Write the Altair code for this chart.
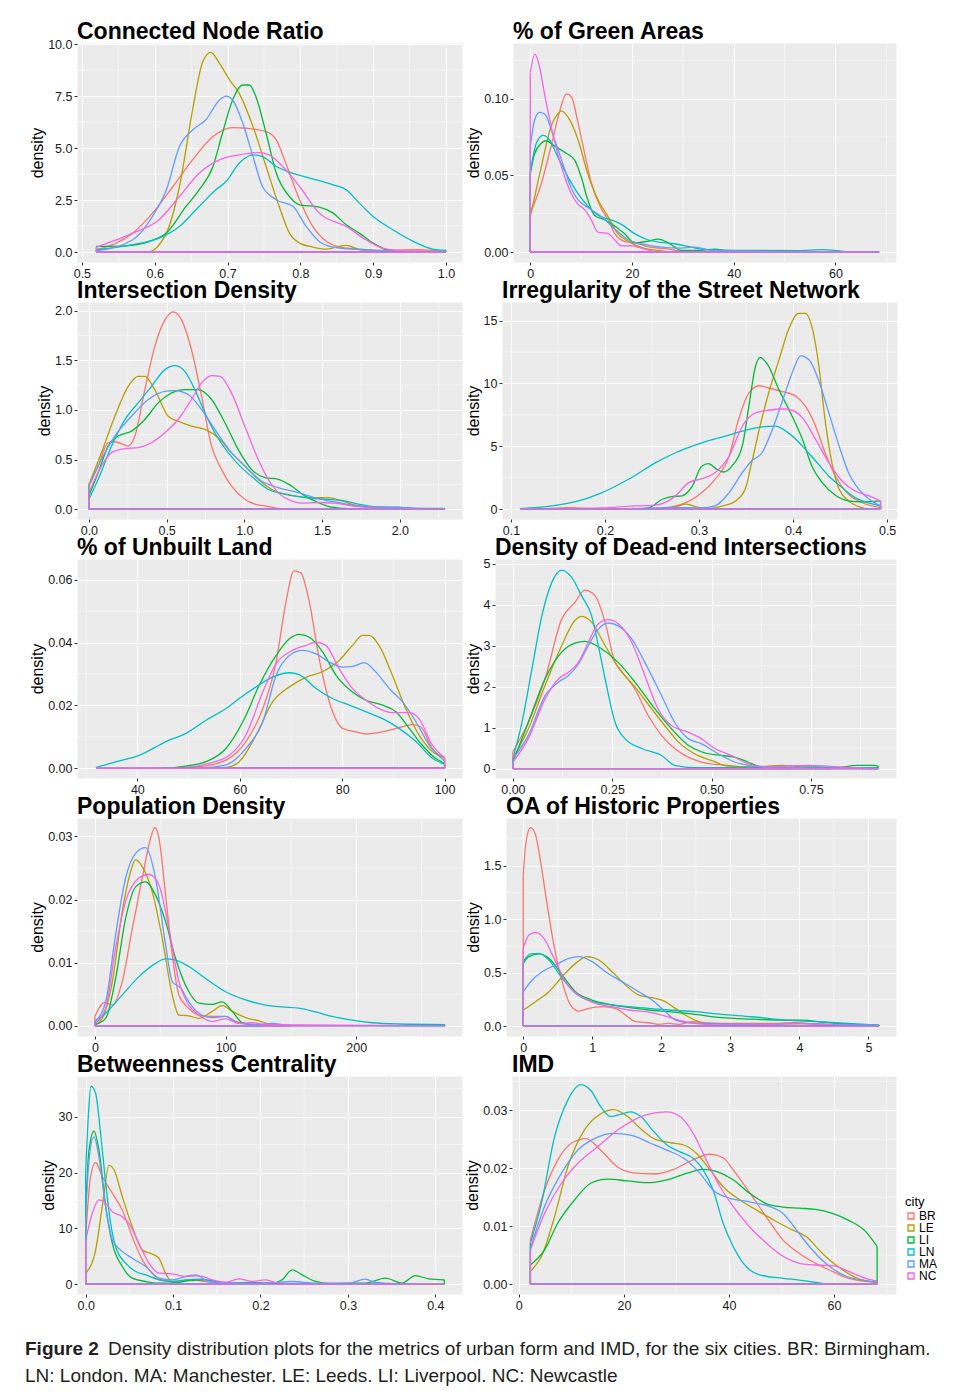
import altair as alt
import pandas as pd

CITIES = ["BR", "LE", "LI", "LN", "MA", "NC"]
COLORS = ["#F8766D", "#B79F00", "#00BA38", "#00BFC4", "#619CFF", "#F564E3"]
FONT = "Liberation Sans, Arial, Helvetica, sans-serif"
CAP_FONT = "Liberation Sans, Arial, sans-serif"

TITLES = ["Connected Node Ratio", "% of Green Areas", "Intersection Density",
          "Irregularity of the Street Network", "% of Unbuilt Land",
          "Density of Dead-end Intersections", "Population Density",
          "OA of Historic Properties", "Betweenness Centrality", "IMD"]

CAPTION_BOLD = "Figure 2"
CAPTION_LINE1 = "Density distribution plots for the metrics of urban form and IMD, for the six cities. BR: Birmingham."
CAPTION_LINE2 = "LN: London. MA: Manchester. LE: Leeds. LI: Liverpool. NC: Newcastle"

# ---------------- Connected Node Ratio ----------------
CNR_BR_X = [0.52, 0.57, 0.597, 0.625, 0.652, 0.68, 0.707, 0.726, 0.753, 0.767, 0.78, 0.799, 0.817, 0.836, 0.854, 0.881, 0.913, 0.959, 0.982, 1.0]
CNR_BR_Y = [0.11, 0.91, 1.87, 3.15, 4.43, 5.55, 5.98, 5.95, 5.79, 5.39, 4.27, 2.51, 1.23, 0.51, 0.24, 0.14, 0.08, 0.11, 0.08, 0.03]
CNR_LE_X = [0.52, 0.59, 0.616, 0.634, 0.652, 0.666, 0.677, 0.689, 0.703, 0.716, 0.735, 0.753, 0.771, 0.785, 0.799, 0.817, 0.836, 0.863, 0.881, 0.9, 0.95]
CNR_LE_Y = [0.0, 0.0, 0.91, 3.15, 6.83, 9.15, 9.6, 9.07, 8.27, 7.63, 6.03, 4.11, 2.19, 0.91, 0.43, 0.24, 0.14, 0.32, 0.11, 0.03, 0.0]
CNR_LI_X = [0.52, 0.56, 0.593, 0.616, 0.643, 0.661, 0.68, 0.693, 0.707, 0.721, 0.73, 0.739, 0.753, 0.767, 0.785, 0.799, 0.826, 0.845, 0.863, 0.881, 0.9, 0.918, 0.936]
CNR_LI_Y = [0.27, 0.3, 0.51, 0.91, 2.19, 2.99, 4.11, 5.71, 7.31, 8.03, 8.03, 7.47, 5.71, 3.79, 2.67, 2.27, 2.16, 1.87, 1.31, 0.91, 0.43, 0.11, 0.02]
CNR_LN_X = [0.52, 0.57, 0.606, 0.634, 0.661, 0.684, 0.698, 0.716, 0.735, 0.748, 0.767, 0.785, 0.813, 0.845, 0.863, 0.881, 0.9, 0.927, 0.955, 0.982, 1.0]
CNR_LN_Y = [0.11, 0.35, 0.67, 1.23, 2.19, 2.99, 3.39, 4.27, 4.67, 4.59, 4.11, 3.84, 3.55, 3.23, 2.99, 2.35, 1.71, 1.07, 0.51, 0.14, 0.08]
CNR_MA_X = [0.52, 0.57, 0.597, 0.616, 0.634, 0.652, 0.67, 0.689, 0.698, 0.707, 0.721, 0.735, 0.748, 0.767, 0.79, 0.808, 0.826, 0.845, 0.872, 0.89, 0.918, 0.95]
CNR_MA_Y = [0.06, 0.59, 1.71, 2.99, 5.07, 5.87, 6.35, 7.31, 7.5, 7.31, 6.19, 4.59, 3.15, 2.51, 2.19, 1.23, 0.51, 0.24, 0.14, 0.11, 0.05, 0.0]
CNR_NC_X = [0.52, 0.57, 0.606, 0.634, 0.661, 0.689, 0.716, 0.743, 0.757, 0.78, 0.799, 0.826, 0.863, 0.89, 0.913, 0.936, 1.0]
CNR_NC_Y = [0.24, 0.91, 1.55, 2.67, 3.79, 4.43, 4.67, 4.78, 4.67, 3.95, 3.15, 1.87, 1.23, 0.59, 0.19, 0.08, 0.02]

# ---------------- % of Green Areas ----------------
GRN_BR_X = [0, 2.2, 4.1, 5.8, 7.1, 8.1, 9.4, 10.7, 12, 14, 15.3, 16.6, 18.5, 20.5, 23.8, 27, 30.3, 50]
GRN_BR_Y = [0.025, 0.045, 0.069, 0.092, 0.103, 0.101, 0.084, 0.064, 0.045, 0.028, 0.021, 0.012, 0.007, 0.006, 0.003, 0.002, 0.0004, 0.0]
GRN_LE_X = [0, 2.2, 4.1, 5.4, 6.1, 7.4, 9.4, 11.3, 13.3, 15.3, 17.2, 19.2, 21.8, 25.1, 28.4, 40]
GRN_LE_Y = [0.023, 0.056, 0.082, 0.09, 0.092, 0.088, 0.073, 0.051, 0.034, 0.023, 0.012, 0.007, 0.003, 0.001, 0.0, 0.0]
GRN_LI_X = [0, 0.85, 2.2, 3.1, 4.8, 6.75, 8.7, 10, 11.3, 12.6, 14.6, 16.6, 18.5, 20.5, 23.1, 25.1, 27, 29.7, 33.6, 36.2, 39.5, 45]
GRN_LI_Y = [0.051, 0.064, 0.071, 0.0725, 0.069, 0.065, 0.06, 0.049, 0.034, 0.024, 0.021, 0.017, 0.012, 0.006, 0.007, 0.0084, 0.0063, 0.0011, 0.0011, 0.0019, 0.0004, 0.0]
GRN_LN_X = [0, 1.2, 2.5, 3.8, 5.4, 7.4, 9.4, 11.3, 13.3, 15.9, 17.9, 20.5, 23.1, 25.7, 28.4, 31, 33.6, 40.2, 53.3, 57.2, 59.8, 63.1, 68.6]
GRN_LN_Y = [0.052, 0.071, 0.076, 0.073, 0.062, 0.049, 0.038, 0.03, 0.024, 0.021, 0.018, 0.012, 0.008, 0.0063, 0.0054, 0.0037, 0.0019, 0.0011, 0.0009, 0.0015, 0.0011, 0.0, 0.0]
GRN_MA_X = [0, 0.85, 1.8, 2.8, 4.8, 6.75, 8.1, 9.4, 11.3, 14, 16.6, 19.2, 22.5, 25.7, 29.7, 32.3, 35.6, 43.4, 50]
GRN_MA_Y = [0.069, 0.086, 0.091, 0.09, 0.073, 0.054, 0.041, 0.034, 0.029, 0.023, 0.015, 0.008, 0.005, 0.0032, 0.0026, 0.0032, 0.0011, 0.0006, 0.0]
GRN_NC_X = [0, 0.9, 1.8, 2.8, 4.1, 5.4, 6.75, 8.05, 9.4, 10.7, 12, 13.3, 15.3, 16.6, 17.9, 19.8, 21.8, 24.4, 27, 68.6]
GRN_NC_Y = [0.117, 0.129, 0.121, 0.103, 0.082, 0.064, 0.049, 0.038, 0.031, 0.0275, 0.021, 0.013, 0.012, 0.008, 0.004, 0.0041, 0.0026, 0.0004, 0.0, 0.0]

# ---------------- Intersection Density ----------------
INT_BR_X = [0, 0.06, 0.124, 0.167, 0.221, 0.253, 0.296, 0.36, 0.424, 0.489, 0.542, 0.596, 0.66, 0.725, 0.789, 0.853, 0.917, 1.003, 1.068, 1.132, 1.218, 1.3]
INT_BR_Y = [0.234, 0.435, 0.669, 0.679, 0.652, 0.635, 0.736, 1.204, 1.639, 1.906, 1.987, 1.906, 1.605, 1.137, 0.635, 0.401, 0.234, 0.1, 0.05, 0.033, 0.007, 0.0]
INT_LE_X = [0, 0.081, 0.167, 0.253, 0.317, 0.36, 0.424, 0.51, 0.574, 0.66, 0.746, 0.832, 0.917, 1.003, 1.089, 1.175, 1.303, 1.432, 1.539, 1.625, 1.732, 1.861, 1.989, 2.29]
INT_LE_Y = [0.25, 0.569, 0.936, 1.237, 1.338, 1.338, 1.204, 0.936, 0.886, 0.836, 0.803, 0.719, 0.569, 0.435, 0.301, 0.201, 0.14, 0.117, 0.117, 0.084, 0.033, 0.013, 0.007, 0.0]
INT_LI_X = [0, 0.06, 0.124, 0.189, 0.274, 0.36, 0.446, 0.532, 0.617, 0.703, 0.789, 0.875, 0.96, 1.046, 1.132, 1.218, 1.303, 1.389, 1.475, 1.561, 1.646, 1.75]
INT_LI_Y = [0.134, 0.368, 0.635, 0.736, 0.786, 0.903, 1.07, 1.171, 1.204, 1.204, 1.104, 0.87, 0.602, 0.401, 0.318, 0.301, 0.234, 0.134, 0.067, 0.02, 0.007, 0.0]
INT_LN_X = [0, 0.06, 0.146, 0.232, 0.317, 0.403, 0.489, 0.553, 0.617, 0.682, 0.746, 0.81, 0.896, 0.982, 1.068, 1.153, 1.26, 1.389, 1.518, 1.646, 1.732, 1.861, 1.989, 2.118, 2.29]
INT_LN_Y = [0.1, 0.301, 0.635, 0.903, 1.07, 1.237, 1.405, 1.445, 1.388, 1.204, 0.97, 0.769, 0.569, 0.418, 0.301, 0.201, 0.151, 0.117, 0.1, 0.084, 0.05, 0.023, 0.02, 0.007, 0.007]
INT_MA_X = [0, 0.081, 0.167, 0.274, 0.382, 0.489, 0.553, 0.639, 0.725, 0.81, 0.917, 1.003, 1.11, 1.218, 1.346, 1.475, 1.603, 1.732, 1.882, 1.989, 2.118, 2.2]
INT_MA_Y = [0.234, 0.502, 0.736, 0.936, 1.104, 1.187, 1.194, 1.154, 1.003, 0.803, 0.569, 0.435, 0.284, 0.217, 0.167, 0.107, 0.067, 0.033, 0.02, 0.017, 0.007, 0.0]
INT_NC_X = [0, 0.081, 0.146, 0.232, 0.317, 0.403, 0.489, 0.574, 0.66, 0.725, 0.789, 0.842, 0.917, 1.003, 1.089, 1.153, 1.218, 1.303, 1.368, 1.475, 1.582, 1.689, 1.818, 2.29]
INT_NC_Y = [0.167, 0.435, 0.569, 0.609, 0.619, 0.669, 0.769, 0.903, 1.104, 1.271, 1.344, 1.338, 1.171, 0.836, 0.502, 0.301, 0.167, 0.084, 0.06, 0.067, 0.06, 0.033, 0.013, 0.0]

# ---------------- Irregularity of the Street Network ----------------
IRR_BR_X = [0.126, 0.161, 0.197, 0.254, 0.282, 0.303, 0.317, 0.332, 0.342, 0.353, 0.364, 0.374, 0.388, 0.403, 0.413, 0.424, 0.434, 0.445, 0.459, 0.473, 0.493]
IRR_BR_Y = [0.0, 0.13, 0.0, 0.05, 0.4, 1.32, 2.38, 4.22, 7.13, 9.24, 9.82, 9.64, 9.37, 8.98, 8.19, 6.6, 4.49, 2.64, 1.19, 0.53, 0.13]
IRR_LE_X = [0.254, 0.275, 0.286, 0.296, 0.31, 0.325, 0.339, 0.349, 0.356, 0.364, 0.374, 0.385, 0.395, 0.406, 0.413, 0.42, 0.427, 0.434, 0.442, 0.449, 0.459, 0.473, 0.48]
IRR_LE_Y = [0.0, 0.18, 0.4, 0.21, 0.05, 0.26, 0.66, 1.58, 3.7, 6.34, 9.24, 11.88, 14.26, 15.58, 15.58, 14.52, 11.62, 7.13, 3.43, 1.58, 0.66, 0.13, 0.0]
IRR_LI_X = [0.232, 0.247, 0.261, 0.271, 0.282, 0.293, 0.303, 0.31, 0.319, 0.326, 0.335, 0.346, 0.353, 0.36, 0.365, 0.372, 0.385, 0.399, 0.41, 0.42, 0.431, 0.445, 0.459, 0.473, 0.493]
IRR_LI_Y = [0.0, 0.13, 0.79, 1.0, 1.06, 1.85, 3.43, 3.62, 3.17, 2.96, 3.43, 5.02, 8.19, 11.35, 12.07, 11.62, 9.51, 7.39, 5.55, 3.43, 2.11, 1.11, 0.66, 0.58, 0.66]
IRR_LN_X = [0.11, 0.144, 0.172, 0.197, 0.225, 0.254, 0.275, 0.303, 0.328, 0.346, 0.367, 0.381, 0.395, 0.41, 0.424, 0.438, 0.452, 0.466, 0.481, 0.493]
IRR_LN_Y = [0.05, 0.26, 0.66, 1.32, 2.38, 3.7, 4.49, 5.28, 5.81, 6.2, 6.55, 6.6, 6.07, 5.02, 3.83, 2.64, 1.72, 0.92, 0.48, 0.26]
IRR_MA_X = [0.232, 0.268, 0.303, 0.317, 0.332, 0.346, 0.356, 0.367, 0.378, 0.388, 0.399, 0.408, 0.417, 0.427, 0.438, 0.449, 0.459, 0.47, 0.481, 0.493]
IRR_MA_Y = [0.05, 0.13, 0.1, 0.26, 1.32, 2.9, 3.83, 4.49, 6.34, 8.45, 10.83, 12.2, 11.88, 10.3, 7.66, 5.02, 2.9, 1.58, 0.79, 0.26]
IRR_NC_X = [0.11, 0.161, 0.197, 0.232, 0.254, 0.275, 0.289, 0.303, 0.317, 0.332, 0.346, 0.36, 0.374, 0.388, 0.399, 0.41, 0.424, 0.438, 0.452, 0.466, 0.481, 0.493]
IRR_NC_Y = [0.0, 0.05, 0.1, 0.26, 0.32, 1.06, 2.11, 2.43, 2.9, 4.22, 6.6, 7.66, 7.87, 7.97, 7.87, 7.26, 5.55, 3.7, 2.24, 1.45, 1.06, 0.66]

# ---------------- % of Unbuilt Land ----------------
UNB_BR_X = [45, 52.1, 57.3, 61.2, 64.5, 67.1, 69, 70.6, 71.9, 73.6, 75.5, 77.5, 80.1, 82.7, 84.6, 87.9, 91.1, 93.7, 95.3, 97.6, 100]
UNB_BR_Y = [0, 0.0005, 0.0026, 0.0085, 0.019, 0.0338, 0.0528, 0.0628, 0.0622, 0.0528, 0.0349, 0.0211, 0.0127, 0.0116, 0.0109, 0.0116, 0.0129, 0.0139, 0.0132, 0.0063, 0.0032]
UNB_LE_X = [52.1, 57.3, 59.9, 63.2, 66.4, 69.7, 73, 76.2, 79.4, 82, 84, 85.3, 87.2, 89.8, 92.4, 95, 97.6, 100]
UNB_LE_Y = [0, 0.0003, 0.0021, 0.0106, 0.0211, 0.0259, 0.029, 0.0308, 0.0343, 0.0391, 0.0423, 0.0423, 0.0391, 0.0296, 0.019, 0.0106, 0.0053, 0.0034]
UNB_LI_X = [45, 49.5, 53.4, 57.3, 60.6, 63.8, 67.1, 69.7, 71.6, 73.6, 76.2, 78.8, 82, 84.6, 87.9, 90.5, 93.1, 95.6, 98.2, 100]
UNB_LI_Y = [0, 0.0007, 0.0021, 0.0063, 0.0148, 0.0264, 0.0359, 0.0412, 0.0426, 0.0417, 0.037, 0.0296, 0.0243, 0.0217, 0.0201, 0.018, 0.0127, 0.0074, 0.0032, 0.0016]
UNB_LN_X = [32, 35.9, 40.5, 45.6, 49.5, 53.4, 57.3, 59.9, 63.2, 66.4, 69.7, 71.6, 74.9, 78.1, 81.4, 84.6, 87.9, 91.1, 94.4, 97.6, 100]
UNB_LN_Y = [0.0003, 0.0021, 0.0042, 0.0085, 0.0111, 0.0153, 0.019, 0.0222, 0.0259, 0.029, 0.0304, 0.0298, 0.0254, 0.0222, 0.0201, 0.018, 0.0158, 0.0127, 0.0085, 0.0032, 0.0013]
UNB_MA_X = [52.1, 57.3, 61.2, 64.5, 67.1, 69.7, 72.3, 74.9, 77.5, 80.1, 82, 84.3, 86.6, 89.2, 91.8, 94.4, 97, 100]
UNB_MA_Y = [0, 0.0011, 0.0063, 0.0148, 0.0296, 0.0359, 0.0375, 0.0364, 0.0338, 0.0322, 0.0324, 0.0336, 0.0306, 0.0254, 0.0211, 0.0148, 0.0074, 0.0023]
UNB_NC_X = [32, 49.5, 53.4, 58, 61.2, 64.5, 67.1, 70.3, 72.9, 74.9, 76.8, 79.4, 82, 84.6, 87.2, 89.8, 93.1, 95, 97.6, 100]
UNB_NC_Y = [0, 0.0003, 0.0013, 0.0042, 0.0106, 0.0243, 0.0333, 0.0375, 0.0391, 0.0401, 0.0391, 0.0317, 0.0254, 0.0217, 0.019, 0.0177, 0.0177, 0.0158, 0.0074, 0.0034]

# ---------------- Density of Dead-end Intersections ----------------
DEA_BR_X = [0, 0.039, 0.081, 0.123, 0.156, 0.181, 0.207, 0.232, 0.257, 0.269, 0.307, 0.34, 0.374, 0.407, 0.441, 0.474, 0.508, 0.541, 0.591, 0.7]
DEA_BR_Y = [0.41, 1.13, 2.19, 3.65, 4.05, 4.35, 4.21, 3.57, 2.59, 2.43, 1.94, 1.3, 0.81, 0.49, 0.28, 0.16, 0.1, 0.08, 0.02, 0.0]
DEA_LE_X = [0, 0.039, 0.081, 0.123, 0.156, 0.173, 0.198, 0.232, 0.265, 0.307, 0.349, 0.382, 0.416, 0.457, 0.499, 0.541, 0.608, 0.675, 0.725, 0.8]
DEA_LE_Y = [0.24, 0.97, 2.03, 3.0, 3.61, 3.71, 3.57, 3.0, 2.47, 1.99, 1.46, 1.05, 0.65, 0.36, 0.2, 0.06, 0.04, 0.08, 0.04, 0.0]
DEA_LI_X = [0, 0.039, 0.081, 0.123, 0.156, 0.181, 0.223, 0.265, 0.307, 0.357, 0.399, 0.441, 0.474, 0.524, 0.558, 0.591, 0.625, 0.683, 0.767, 0.809, 0.867, 0.909, 0.919]
DEA_LI_Y = [0.16, 1.13, 2.19, 2.84, 3.06, 3.1, 2.92, 2.59, 2.11, 1.46, 0.97, 0.57, 0.41, 0.32, 0.28, 0.16, 0.04, 0.02, 0.04, 0.02, 0.08, 0.08, 0.06]
DEA_LN_X = [0, 0.023, 0.048, 0.073, 0.098, 0.123, 0.148, 0.173, 0.198, 0.215, 0.232, 0.257, 0.282, 0.324, 0.374, 0.407, 0.457, 0.558, 0.919]
DEA_LN_Y = [0.24, 1.13, 2.43, 3.73, 4.54, 4.84, 4.66, 4.21, 3.73, 3.0, 2.19, 1.13, 0.73, 0.49, 0.32, 0.08, 0.02, 0.02, 0.02]
DEA_MA_X = [0, 0.039, 0.081, 0.115, 0.14, 0.165, 0.19, 0.215, 0.24, 0.265, 0.299, 0.332, 0.374, 0.407, 0.441, 0.474, 0.508, 0.558, 0.608, 0.692, 0.919]
DEA_MA_Y = [0.24, 0.81, 1.78, 2.11, 2.27, 2.55, 3.0, 3.4, 3.55, 3.48, 3.16, 2.59, 1.78, 1.13, 0.73, 0.61, 0.41, 0.16, 0.06, 0.02, 0.0]
DEA_NC_X = [0, 0.039, 0.081, 0.115, 0.14, 0.165, 0.19, 0.215, 0.24, 0.265, 0.299, 0.332, 0.365, 0.399, 0.441, 0.474, 0.508, 0.549, 0.591, 0.641, 0.692, 0.742, 0.792, 0.85, 0.919]
DEA_NC_Y = [0.16, 0.73, 1.7, 2.19, 2.35, 2.59, 3.08, 3.53, 3.63, 3.53, 3.08, 2.27, 1.46, 1.05, 0.89, 0.73, 0.49, 0.32, 0.12, 0.04, 0.06, 0.08, 0.06, 0.02, 0.0]

# ---------------- Population Density ----------------
POP_BR_X = [0, 3.1, 7.7, 13.3, 20.9, 28.6, 36.2, 42.6, 45.9, 49, 54.1, 59.2, 64.3, 71.9, 79.6, 89.8, 100, 107.7, 120.4, 150]
POP_BR_Y = [0.0015, 0.0028, 0.0037, 0.0033, 0.007, 0.0154, 0.0234, 0.0297, 0.0314, 0.0297, 0.0207, 0.0112, 0.0049, 0.0028, 0.0017, 0.0015, 0.0015, 0.0007, 0.0002, 0.0]
POP_LE_X = [0, 5.6, 13.3, 20.9, 27.3, 31.1, 36.2, 43.9, 51.5, 59.2, 64.3, 71.9, 79.6, 89.8, 97.4, 105.1, 115.3, 125.5, 133.2, 145]
POP_LE_Y = [0.0002, 0.0012, 0.007, 0.0181, 0.0244, 0.0263, 0.0252, 0.0212, 0.0139, 0.0049, 0.0017, 0.0016, 0.0012, 0.0023, 0.0032, 0.0023, 0.0013, 0.0008, 0.0003, 0.0]
POP_LI_X = [0, 8.2, 15.8, 23.5, 31.1, 38.8, 46.4, 54.1, 61.7, 71.9, 79.6, 89.8, 97.4, 105.1, 112.8, 120.4, 130]
POP_LI_Y = [0.0002, 0.0012, 0.0075, 0.017, 0.022, 0.0228, 0.0207, 0.0165, 0.0107, 0.0054, 0.0036, 0.0034, 0.0038, 0.0023, 0.0005, 0.0002, 0.0]
POP_LN_X = [0, 8.2, 20.9, 33.7, 46.4, 54.1, 61.7, 71.9, 84.7, 100, 115.3, 130.6, 143.4, 156.1, 168.9, 181.6, 196.9, 212.2, 232.7, 268]
POP_LN_Y = [0.0007, 0.002, 0.0049, 0.0078, 0.0099, 0.0106, 0.0104, 0.0094, 0.0075, 0.0054, 0.0041, 0.0033, 0.003, 0.0028, 0.0022, 0.0015, 0.0009, 0.0005, 0.0003, 0.0002]
POP_MA_X = [0, 8.2, 15.8, 23.5, 31.1, 38.8, 46.4, 54.1, 59.2, 65.6, 71.9, 79.6, 89.8, 100, 110.2, 125.5, 135.7, 143.4, 150]
POP_MA_Y = [0.0007, 0.0038, 0.0144, 0.0234, 0.0273, 0.0282, 0.0234, 0.0128, 0.007, 0.006, 0.0038, 0.002, 0.0013, 0.0015, 0.0004, 0.0002, 0.0004, 0.0002, 0.0]
POP_NC_X = [0, 8.2, 15.8, 23.5, 33.7, 41.3, 49, 56.6, 64.3, 71.9, 79.6, 89.8, 100, 110.2, 120.4, 130.6, 268]
POP_NC_Y = [0.0004, 0.0028, 0.0123, 0.0197, 0.0234, 0.024, 0.0223, 0.0154, 0.007, 0.0033, 0.0017, 0.0007, 0.0011, 0.0004, 0.0005, 0.0002, 0.0]

# ---------------- OA of Historic Properties ----------------
HIS_BR_X = [0, 0.034, 0.106, 0.178, 0.251, 0.347, 0.444, 0.564, 0.685, 0.805, 0.95, 1.143, 1.336, 1.48, 1.625, 1.818, 1.962, 2.107, 2.252, 2.445, 2.637, 2.878, 3.168, 3.553, 3.939, 4.277, 4.759, 5.154]
HIS_BR_Y = [1.41, 1.69, 1.855, 1.787, 1.537, 1.132, 0.758, 0.415, 0.196, 0.14, 0.165, 0.181, 0.165, 0.103, 0.041, 0.031, 0.016, 0.025, 0.016, 0.041, 0.031, 0.025, 0.025, 0.025, 0.031, 0.016, 0.009, 0.003]
HIS_LE_X = [0, 0.178, 0.371, 0.564, 0.757, 0.926, 1.094, 1.287, 1.48, 1.673, 1.866, 2.059, 2.203, 2.348, 2.541, 2.734, 3.071, 3.553, 4.036, 4.518, 4.8]
HIS_LE_Y = [0.15, 0.228, 0.321, 0.461, 0.586, 0.649, 0.617, 0.508, 0.384, 0.29, 0.265, 0.228, 0.165, 0.103, 0.041, 0.009, 0.009, 0.016, 0.022, 0.009, 0.0]
HIS_LI_X = [0, 0.082, 0.227, 0.371, 0.564, 0.757, 0.998, 1.239, 1.528, 1.818, 2.107, 2.493, 2.878, 3.312, 3.795, 4.036, 4.373, 4.759, 5.154]
HIS_LI_Y = [0.586, 0.649, 0.674, 0.633, 0.477, 0.321, 0.243, 0.203, 0.175, 0.15, 0.134, 0.109, 0.078, 0.065, 0.056, 0.056, 0.034, 0.016, 0.009]
HIS_LN_X = [0, 0.106, 0.227, 0.371, 0.564, 0.757, 0.998, 1.239, 1.528, 1.818, 2.107, 2.493, 2.878, 3.312, 3.795, 4.277, 4.759, 5.154]
HIS_LN_Y = [0.602, 0.674, 0.68, 0.617, 0.446, 0.306, 0.228, 0.203, 0.181, 0.165, 0.15, 0.134, 0.109, 0.087, 0.056, 0.041, 0.022, 0.009]
HIS_MA_X = [0, 0.13, 0.275, 0.468, 0.661, 0.805, 0.998, 1.191, 1.432, 1.673, 1.866, 2.059, 2.203, 2.396, 2.686, 3.071, 3.553, 4.036, 4.518, 5.154]
HIS_MA_Y = [0.321, 0.43, 0.508, 0.571, 0.633, 0.649, 0.602, 0.508, 0.415, 0.321, 0.243, 0.134, 0.056, 0.031, 0.022, 0.016, 0.016, 0.025, 0.016, 0.009]
HIS_NC_X = [0, 0.082, 0.178, 0.299, 0.468, 0.612, 0.805, 1.046, 1.287, 1.528, 1.77, 2.011, 2.252, 2.493, 2.83, 3.312, 3.795, 4.036, 4.518, 5.154]
HIS_NC_Y = [0.727, 0.851, 0.876, 0.82, 0.602, 0.415, 0.29, 0.212, 0.181, 0.15, 0.134, 0.103, 0.056, 0.025, 0.009, 0.009, 0.022, 0.022, 0.009, 0.003]

# ---------------- Betweenness Centrality ----------------
BET_BR_X = [0, 0.0057, 0.0114, 0.019, 0.0305, 0.0419, 0.0533, 0.0648, 0.0762, 0.0876, 0.1029, 0.1219, 0.1371, 0.1676, 0.2057, 0.2438, 0.3]
BET_BR_Y = [8.5, 19.3, 21.8, 19.3, 16.3, 13.3, 8.5, 4.35, 1.97, 0.78, 0.48, 0.78, 0.48, 0.18, 0.18, 0.06, 0.0]
BET_LE_X = [0, 0.0114, 0.019, 0.0267, 0.0324, 0.0419, 0.0533, 0.0648, 0.0762, 0.0838, 0.0914, 0.099, 0.1143, 0.12]
BET_LE_Y = [1.97, 6.1, 13.9, 21.3, 20.5, 15.7, 10.3, 6.1, 5.4, 4.65, 1.97, 0.3, 0.06, 0.0]
BET_LI_X = [0, 0.0038, 0.0095, 0.0152, 0.0229, 0.0305, 0.0419, 0.0533, 0.0686, 0.0838, 0.099, 0.1181, 0.1371, 0.16, 0.1905, 0.2133, 0.2248, 0.2362, 0.2476, 0.2629, 0.2819, 0.301, 0.32, 0.3429, 0.3619, 0.3771, 0.3924, 0.4103]
BET_LI_Y = [13.3, 24, 27.4, 24, 13.9, 7.3, 3.16, 1.07, 0.48, 0.18, 0.18, 0.66, 0.78, 0.18, 0.3, 0.18, 0.78, 2.56, 1.67, 0.48, 0.06, 0.18, 0.18, 1.07, 0.18, 1.55, 0.95, 0.78]
BET_LN_X = [0, 0.003, 0.0061, 0.0114, 0.0171, 0.0229, 0.0286, 0.0343, 0.0457, 0.0571, 0.0686, 0.0838, 0.099, 0.1143, 0.1295, 0.1448, 0.1676, 0.2057, 0.2438, 0.3]
BET_LN_Y = [19.9, 30, 35.5, 34.2, 27, 18.1, 10.9, 6.7, 3.76, 2.27, 1.67, 0.78, 0.48, 0.78, 0.89, 0.6, 0.18, 0.18, 0.06, 0.0]
BET_MA_X = [0, 0.0038, 0.0095, 0.0152, 0.0229, 0.0305, 0.04, 0.0533, 0.0686, 0.0838, 0.099, 0.1143, 0.1257, 0.141, 0.1676, 0.2057, 0.2362, 0.2629, 0.301, 0.32, 0.3314, 0.3581, 0.38]
BET_MA_Y = [12.1, 22.2, 26.4, 22.8, 13.9, 7.9, 6.1, 4.65, 3.16, 1.07, 0.78, 1.37, 1.67, 0.48, 0.18, 0.18, 0.48, 0.18, 0.18, 0.89, 0.3, 0.06, 0.0]
BET_NC_X = [0, 0.0076, 0.0152, 0.0229, 0.0305, 0.0419, 0.0495, 0.061, 0.0724, 0.0838, 0.099, 0.1143, 0.1295, 0.1448, 0.16, 0.1752, 0.1905, 0.2057, 0.221, 0.2438, 0.4103]
BET_NC_Y = [7.9, 12.7, 15.1, 14.5, 13, 12.1, 10.9, 7.3, 3.76, 1.97, 1.85, 1.37, 1.49, 0.78, 0.36, 0.95, 0.48, 0.78, 0.18, 0.06, 0.0]

# ---------------- IMD ----------------
IMD_BR_X = [2.2, 4.9, 7.4, 10, 12.8, 15.6, 18.8, 21.9, 25.7, 29.5, 32.6, 36.4, 38.9, 40.8, 44, 47.1, 50.3, 53.4, 56.5, 59.7, 62.8, 68.2]
IMD_BR_Y = [0.0076, 0.0162, 0.0214, 0.0243, 0.0251, 0.0231, 0.0202, 0.0192, 0.019, 0.0198, 0.0212, 0.0224, 0.0218, 0.0197, 0.0157, 0.0116, 0.0076, 0.0053, 0.0036, 0.0022, 0.001, 0.0003]
IMD_LE_X = [2.2, 4.3, 6.8, 9.3, 12.5, 15.6, 18.1, 20.7, 23.2, 25.7, 28.8, 31.4, 33.9, 36.4, 38.9, 42.1, 45.2, 48.4, 51.5, 54.7, 57.8, 61.6, 64.7, 68.2]
IMD_LE_Y = [0.0022, 0.0048, 0.0116, 0.0202, 0.0266, 0.0294, 0.0301, 0.0289, 0.0268, 0.0251, 0.0244, 0.024, 0.0225, 0.0197, 0.0168, 0.0145, 0.0128, 0.0111, 0.0096, 0.0082, 0.0053, 0.0025, 0.0009, 0.0003]
IMD_LI_X = [2.2, 4.9, 7.4, 10.6, 13.7, 16.9, 20.7, 24.4, 28.2, 31.9, 35.1, 37.7, 40.8, 43.9, 47.1, 50.3, 53.4, 56.5, 59.7, 62.8, 66, 68.2]
IMD_LI_Y = [0.0033, 0.0059, 0.0105, 0.0145, 0.0174, 0.0181, 0.0178, 0.0175, 0.018, 0.0191, 0.0198, 0.0194, 0.018, 0.0157, 0.0139, 0.0133, 0.0131, 0.0129, 0.0122, 0.011, 0.0091, 0.0065]
IMD_LN_X = [2.2, 4.3, 6.8, 9.3, 11.8, 13.7, 15.6, 17.5, 19.4, 21.3, 23.2, 25.7, 28.2, 30.7, 33.2, 35.1, 37, 38.9, 40.8, 43.3, 45.8, 50.3, 53.4, 57.2, 58.5]
IMD_LN_Y = [0.0071, 0.0139, 0.0254, 0.0317, 0.0344, 0.0334, 0.0306, 0.0289, 0.0293, 0.0297, 0.0289, 0.0263, 0.024, 0.0228, 0.0217, 0.0197, 0.0162, 0.0105, 0.0065, 0.003, 0.0016, 0.001, 0.0007, 0.0002, 0.0]
IMD_MA_X = [2.2, 4.9, 8.1, 11.2, 14.4, 18.1, 21.3, 25.1, 28.2, 31.4, 34.5, 37, 40.2, 43.9, 47.7, 50.3, 52.8, 55.3, 58.4, 62.2, 66, 68.2]
IMD_MA_Y = [0.0062, 0.0134, 0.0191, 0.0231, 0.0251, 0.026, 0.0257, 0.0243, 0.0231, 0.0217, 0.0191, 0.0162, 0.0148, 0.0142, 0.0134, 0.0122, 0.0094, 0.0065, 0.0036, 0.0014, 0.0006, 0.0003]
IMD_NC_X = [2.2, 4.9, 8.1, 11.2, 15, 18.8, 21.9, 25.1, 28.2, 30.7, 33.2, 35.7, 38.3, 40.8, 43.9, 47.1, 50.3, 53.4, 56.5, 59.7, 62.8, 66, 68.2]
IMD_NC_Y = [0.0059, 0.0122, 0.0174, 0.0208, 0.0237, 0.0266, 0.0283, 0.0294, 0.0297, 0.0289, 0.026, 0.0214, 0.0168, 0.0134, 0.0099, 0.0071, 0.0048, 0.0036, 0.0033, 0.0032, 0.0022, 0.001, 0.0005]

# ---------------- axis ticks per panel ----------------
CNR_XT, CNR_YT = [0.5, 0.6, 0.7, 0.8, 0.9, 1.0], [0, 2.5, 5, 7.5, 10]
CNR_XM, CNR_YM = [0.55, 0.65, 0.75, 0.85, 0.95], [1.25, 3.75, 6.25, 8.75]
GRN_XT, GRN_YT = [0, 20, 40, 60], [0, 0.05, 0.10]
GRN_XM, GRN_YM = [10, 30, 50, 70], [0.025, 0.075, 0.125]
INT_XT, INT_YT = [0, 0.5, 1.0, 1.5, 2.0], [0, 0.5, 1.0, 1.5, 2.0]
INT_XM, INT_YM = [0.25, 0.75, 1.25, 1.75, 2.25], [0.25, 0.75, 1.25, 1.75]
IRR_XT, IRR_YT = [0.1, 0.2, 0.3, 0.4, 0.5], [0, 5, 10, 15]
IRR_XM, IRR_YM = [0.15, 0.25, 0.35, 0.45], [2.5, 7.5, 12.5]
UNB_XT, UNB_YT = [40, 60, 80, 100], [0, 0.02, 0.04, 0.06]
UNB_XM, UNB_YM = [30, 50, 70, 90], [0.01, 0.03, 0.05]
DEA_XT, DEA_YT = [0, 0.25, 0.5, 0.75], [0, 1, 2, 3, 4, 5]
DEA_XM, DEA_YM = [0.125, 0.375, 0.625, 0.875], [0.5, 1.5, 2.5, 3.5, 4.5]
POP_XT, POP_YT = [0, 100, 200], [0, 0.01, 0.02, 0.03]
POP_XM, POP_YM = [50, 150, 250], [0.005, 0.015, 0.025]
HIS_XT, HIS_YT = [0, 1, 2, 3, 4, 5], [0, 0.5, 1.0, 1.5]
HIS_XM, HIS_YM = [0.5, 1.5, 2.5, 3.5, 4.5], [0.25, 0.75, 1.25, 1.75]
BET_XT, BET_YT = [0, 0.1, 0.2, 0.3, 0.4], [0, 10, 20, 30]
BET_XM, BET_YM = [0.05, 0.15, 0.25, 0.35], [5, 15, 25, 35]
IMD_XT, IMD_YT = [0, 20, 40, 60], [0, 0.01, 0.02, 0.03]
IMD_XM, IMD_YM = [10, 30, 50, 70], [0.005, 0.015, 0.025, 0.035]

# ---------------- layout constants (pixels) ----------------
CAPTION_DX = -52    # caption start relative to the left plot column
RIGHT_COL = 467     # intended bounds start for the right column
HSPACE = 1
LW = 385            # width of the left column plots

LEGEND = alt.Legend(title="city", orient="none", legendX=828, legendY=1153,
                    symbolType="square", symbolSize=36, symbolFillColor="#F2F2F2",
                    symbolStrokeWidth=1.3, labelFontSize=12, titleFontSize=13,
                    titleFontWeight="normal", labelFont=FONT, titleFont=FONT,
                    labelColor="black", titleColor="black", rowPadding=-2,
                    titlePadding=1, labelOffset=2, padding=0)


def panel(title, series, xdom, ydom, xt, yt, xm, ym, xfmt, yfmt, w, h, plot_left=None, col_start=None):
    rows, segs = [], []
    for city, (xs, ys) in zip(CITIES, series):
        for x, y in zip(xs, ys):
            rows.append({"city": city, "x": x, "y": y})
        segs.append({"city": city, "x": xs[0], "y": 0, "x2": xs[0], "y2": ys[0]})
        segs.append({"city": city, "x": xs[-1], "y": ys[-1], "x2": xs[-1], "y2": 0})
        segs.append({"city": city, "x": xs[0], "y": 0, "x2": xs[-1], "y2": 0})
    df = pd.DataFrame(rows)
    sdf = pd.DataFrame(segs)

    X = alt.X("x:Q", scale=alt.Scale(domain=xdom, nice=False, zero=False),
              axis=alt.Axis(values=xt, format=xfmt, title=None))
    Y = alt.Y("y:Q", scale=alt.Scale(domain=ydom, nice=False, zero=False),
              axis=alt.Axis(values=yt, format=yfmt, title="density"))
    C = alt.Color("city:N", scale=alt.Scale(domain=CITIES, range=COLORS), legend=LEGEND)

    minor_x = alt.Chart(pd.DataFrame({"x": xm})).mark_rule(color="white", strokeWidth=0.55).encode(x=X)
    minor_y = alt.Chart(pd.DataFrame({"y": ym})).mark_rule(color="white", strokeWidth=0.55).encode(y=Y)
    lines = alt.Chart(df).mark_line(strokeWidth=1.3, interpolate="monotone").encode(x=X, y=Y, color=C)
    outline = alt.Chart(sdf).mark_rule(strokeWidth=1.3).encode(
        x=X, y=Y, x2="x2:Q", y2="y2:Q", color=C)
    head = alt.Chart(pd.DataFrame({"t": [title]})).mark_text(
        align="left", baseline="alphabetic", fontSize=23, fontWeight="bold",
        font=FONT, color="black").encode(x=alt.value(0), y=alt.value(-4), text="t:N")
    layers = [minor_x, minor_y, lines, outline, head]
    if col_start is not None:
        spacer = alt.Chart(pd.DataFrame({"t": [" "]})).mark_text(
            opacity=0, align="left", baseline="middle", fontSize=10).encode(
            x=alt.value(col_start - plot_left), y=alt.value(h / 2), text="t:N")
        layers.append(spacer)

    return alt.layer(*layers).properties(
        width=w, height=h,
        view=alt.ViewBackground(fill="#EBEBEB", stroke="transparent"),
    )


def ser(prefix):
    g = globals()
    return [(g[f"{prefix}_{c}_X"], g[f"{prefix}_{c}_Y"]) for c in CITIES]


p1 = panel(TITLES[0], ser("CNR"), [0.4933, 1.022], [-0.48, 10.05], CNR_XT, CNR_YT, CNR_XM, CNR_YM, ".1f", ".1f", LW, 219)
p2 = panel(TITLES[1], ser("GRN"), [-3.4, 71.9], [-0.0065, 0.1362], GRN_XT, GRN_YT, GRN_XM, GRN_YM, "d", ".2f", 383, 219, 515, RIGHT_COL)
p3 = panel(TITLES[2], ser("INT"), [-0.0764, 2.40], [-0.099, 2.086], INT_XT, INT_YT, INT_XM, INT_YM, ".1f", ".1f", LW, 217)
p4 = panel(TITLES[3], ser("IRR"), [0.0905, 0.5105], [-0.78, 16.48], IRR_XT, IRR_YT, IRR_XM, IRR_YM, ".1f", "d", 395, 217, 503, RIGHT_COL)
p5 = panel(TITLES[4], ser("UNB"), [28.21, 103.4], [-0.0031, 0.0666], UNB_XT, UNB_YT, UNB_XM, UNB_YM, "d", ".2f", LW, 219)
p6 = panel(TITLES[5], ser("DEA"), [-0.045, 0.964], [-0.23, 5.11], DEA_XT, DEA_YT, DEA_XM, DEA_YM, ".2f", "d", 401, 219, 497, RIGHT_COL)
p7 = panel(TITLES[6], ser("POP"), [-13.73, 281], [-0.0016, 0.0329], POP_XT, POP_YT, POP_XM, POP_YM, "d", ".2f", LW, 218)
p8 = panel(TITLES[7], ser("HIS"), [-0.25, 5.4], [-0.093, 1.945], HIS_XT, HIS_YT, HIS_XM, HIS_YM, "d", ".1f", 390, 218, 508, RIGHT_COL)
p9 = panel(TITLES[8], ser("BET"), [-0.0099, 0.4305], [-1.76, 37.3], BET_XT, BET_YT, BET_XM, BET_YM, ".1f", "d", LW, 218)
p10 = panel(TITLES[9], ser("IMD"), [-1.3, 71.8], [-0.0017, 0.0359], IMD_XT, IMD_YT, IMD_XM, IMD_YM, "d", ".2f", 384, 218, 514, RIGHT_COL)

cx = CAPTION_DX
cap_df = pd.DataFrame({"t": [0]})
cap_bold = alt.Chart(cap_df).mark_text(
    text=CAPTION_BOLD, font=CAP_FONT, fontSize=19, fontWeight="bold", color="#231F20",
    align="left", baseline="alphabetic").encode(x=alt.value(cx), y=alt.value(43))
cap_l1 = alt.Chart(cap_df).mark_text(
    text=CAPTION_LINE1, font=CAP_FONT, fontSize=19, color="#231F20",
    align="left", baseline="alphabetic").encode(x=alt.value(cx + 83), y=alt.value(43))
cap_l2 = alt.Chart(cap_df).mark_text(
    text=CAPTION_LINE2, font=CAP_FONT, fontSize=19, color="#231F20",
    align="left", baseline="alphabetic").encode(x=alt.value(cx), y=alt.value(70))
caption = alt.layer(cap_bold, cap_l1, cap_l2).properties(
    width=800, height=76, view=alt.ViewBackground(fill="white", stroke="transparent"))

rows = [alt.hconcat(a, b, spacing=HSPACE) for a, b in [(p1, p2), (p3, p4), (p5, p6), (p7, p8), (p9, p10)]]

chart = alt.vconcat(*rows, caption, spacing=-1).properties(
    padding={"left": 16, "top": 12, "right": 0, "bottom": 0}
).configure_view(stroke="transparent").configure_axis(
    grid=True, gridColor="white", gridWidth=1.1, domain=False,
    tickColor="#333333", tickSize=3, tickWidth=1,
    labelFont=FONT, labelFontSize=12.5, labelColor="#1a1a1a", labelPadding=2,
    labelOverlap=False, labelFlush=False,
    titleFont=FONT, titleFontSize=16, titleFontWeight="normal", titleColor="black",
    titlePadding=2,
)

chart.save("out.html", embed_options={"renderer": "svg", "actions": False})
